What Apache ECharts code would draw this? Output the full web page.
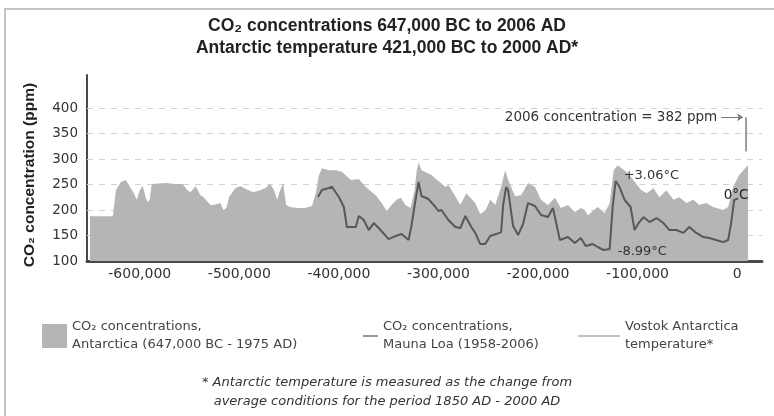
<!DOCTYPE html>
<html>
<head>
<meta charset="utf-8">
<script src="https://cdn.jsdelivr.net/npm/echarts@6/dist/echarts.min.js"></script>
<style>
  html, body { margin: 0; padding: 0; background: #fff; }
  #main { width: 774px; height: 416px; }
</style>
</head>
<body>
<div id="main"></div>
<script>
// CO2 in Antarctic ice, years (negative = BC) and ppm
const co2Years = [-650000, -627000, -624000, -619000, -614000, -609000, -606000, -603000, -600000, -597000,
  -594000, -592000, -590000, -588000, -586000, -574000, -564000, -557000, -552000, -549000,
  -544000, -542000, -539000, -536000, -529000, -526000, -519000, -516000, -513000, -510000,
  -504000, -499000, -493000, -486000, -479000, -474000, -469000, -465000, -462000, -459000,
  -456000, -453000, -449000, -442000, -434000, -427000, -423000, -420000, -417000, -410000,
  -403000, -397000, -388000, -380000, -373000, -363000, -357000, -352000, -347000, -342000,
  -338000, -333000, -328000, -324000, -322000, -320000, -317000, -307000, -300000, -293000,
  -290000, -283000, -278000, -272000, -263000, -258000, -253000, -248000, -243000, -237000,
  -233000, -230000, -223000, -217000, -210000, -203000, -197000, -190000, -183000, -177000,
  -170000, -163000, -157000, -153000, -150000, -140000, -133000, -128000, -124000, -120000,
  -110000, -102000, -96000, -91000, -84000, -78000, -71000, -64000, -58000, -51000,
  -44000, -38000, -31000, -24000, -14000, -9000, -4000, 2000, 9000, 11000];
const co2Values = [188, 188, 239, 255, 259, 243, 233, 220, 239, 247,
  224, 216, 220, 251, 253, 253, 251, 251, 239, 235,
  247, 245, 229, 225, 210, 210, 214, 200, 204, 227,
  243, 247, 241, 235, 239, 243, 251, 239, 220, 239,
  253, 210, 206, 204, 204, 208, 235, 269, 282, 278,
  278, 275, 259, 261, 245, 229, 214, 198, 210, 220,
  224, 210, 204, 239, 275, 294, 278, 269, 257, 245,
  249, 227, 210, 233, 214, 192, 198, 220, 210, 245,
  278, 259, 227, 229, 253, 245, 220, 210, 224, 204,
  210, 196, 204, 200, 190, 206, 194, 214, 278, 288,
  273, 253, 239, 233, 243, 225, 239, 220, 225, 214,
  220, 210, 214, 206, 200, 206, 245, 269, 284, 288];

// Mauna Loa (1958-2006), squeezed to a vertical stroke at the right edge
const maunaYears = [9000, 9000];
const maunaValues = [315, 382];

// Vostok temperature anomaly, degrees C
const tempYears = [-421000, -417000, -410000, -407000, -400000, -395000, -392000, -383000, -380000, -375000,
  -370000, -365000, -360000, -350000, -343000, -337000, -330000, -327000, -323000, -320000,
  -317000, -310000, -303000, -300000, -297000, -290000, -283000, -278000, -273000, -267000,
  -263000, -258000, -253000, -248000, -242000, -237000, -235000, -232000, -230000, -225000,
  -220000, -215000, -210000, -203000, -197000, -190000, -185000, -178000, -170000, -163000,
  -157000, -152000, -145000, -140000, -134000, -128000, -125000, -122000, -118000, -113000,
  -107000, -103000, -99000, -94000, -88000, -81000, -74000, -68000, -61000, -54000,
  -48000, -41000, -34000, -28000, -21000, -14000, -9000, -6000, -3000, 1000];
const tempValues = [0.26, 1.48, 1.83, 2.06, 0.26, -1.48, -4.97, -4.97, -3.05, -3.75,
  -5.5, -4.28, -5.15, -7.07, -6.54, -6.2, -7.24, -4.62, -0.26, 2.9,
  0.44, -0.09, -1.48, -2.18, -2.0, -3.75, -4.97, -5.15, -3.05, -4.97,
  -6.0, -7.94, -7.94, -6.54, -6.2, -5.85, -1.13, 2.0, 1.48, -4.8,
  -6.37, -4.45, -0.79, -1.31, -2.88, -3.23, -1.66, -7.24, -6.72, -7.77,
  -6.89, -8.29, -7.94, -8.46, -8.99, -8.81, -1.48, 3.06, 2.0, -0.26,
  -1.48, -5.5, -4.28, -3.23, -4.1, -3.4, -4.28, -5.5, -5.5, -6.0,
  -4.97, -6.0, -6.72, -6.9, -7.24, -7.6, -7.24, -4.28, -0.26, 0];

const xTicks = [-600000, -500000, -400000, -300000, -200000, -100000, 0];
const yTicks = [100, 150, 200, 250, 300, 350, 400];
const gridValues = [150, 200, 250, 300, 350, 400];

const legendNames = [
  'CO₂ concentrations,\nAntarctica (647,000 BC - 1975 AD)',
  'CO₂ concentrations,\nMauna Loa (1958-2006)',
  'Vostok Antarctica\ntemperature*'
];

const zip = (xs, ys) => xs.map((x, i) => [x, ys[i]]);
const font = "'DejaVu Sans', sans-serif";
const titleFont = "'Liberation Sans', Arial, sans-serif";

const chart = echarts.init(document.getElementById('main'), null, { renderer: 'canvas' });

const legendText = { fontFamily: font, fontSize: 13, color: '#444', lineHeight: 18 };

const option = {
  backgroundColor: '#fff',
  animation: false,
  textStyle: { fontFamily: font },
  title: [{
    text: 'CO₂ concentrations 647,000 BC to 2006 AD\nAntarctic temperature 421,000 BC to 2000 AD*',
    left: 'center',
    top: 10,
    textStyle: { fontFamily: titleFont, fontSize: 17.5, fontWeight: 'bold', color: '#222', lineHeight: 22 }
  }, {
    text: '* Antarctic temperature is measured as the change from\naverage conditions for the period 1850 AD - 2000 AD',
    left: 'center',
    top: 368,
    textStyle: { fontFamily: font, fontSize: 13, fontStyle: 'italic', fontWeight: 'normal', color: '#333', lineHeight: 19 }
  }],
  graphic: [{
    type: 'rect',
    z: -1,
    shape: { x: 5, y: 9, width: 820, height: 460 },
    style: { fill: null, stroke: '#c4c4c4', lineWidth: 2 }
  }],
  legend: [{
    left: 37, top: 313, itemWidth: 25, itemHeight: 24,
    icon: 'rect',
    data: [{ name: legendNames[0], itemStyle: { color: '#b5b5b5' } }],
    textStyle: legendText
  }, {
    left: 358, top: 313, itemWidth: 15, itemHeight: 2,
    icon: 'rect',
    data: [{ name: legendNames[1], itemStyle: { color: '#9a9a9a' } }],
    textStyle: legendText
  }, {
    left: 573, top: 313, itemWidth: 42, itemHeight: 2,
    icon: 'rect',
    data: [{ name: legendNames[2], itemStyle: { color: '#c2c2c2' } }],
    textStyle: legendText
  }],
  grid: { left: 87, right: 12, top: 75, bottom: 155, containLabel: false },
  xAxis: {
    type: 'value',
    min: -653000,
    max: 25000,
    axisLine: { onZero: false, lineStyle: { color: '#4a4a4a', width: 3 } },
    axisTick: { show: false },
    splitLine: { show: false },
    axisLabel: {
      customValues: xTicks,
      color: '#333', fontSize: 14, margin: 6,
      formatter: v => (v % 100000 === 0 ? v.toLocaleString('en-US') : '')
    }
  },
  yAxis: [{
    type: 'value',
    min: 100,
    max: 465,
    name: 'CO₂ concentration (ppm)',
    nameLocation: 'middle',
    nameGap: 49,
    nameTextStyle: { fontFamily: titleFont, fontSize: 15.5, fontWeight: 'bold', color: '#222', padding: [0, 14, 0, 0] },
    axisLine: { show: true, onZero: false, lineStyle: { color: '#4a4a4a', width: 2 } },
    axisTick: { show: false },
    splitLine: { show: false },
    axisLabel: {
      customValues: yTicks,
      color: '#333', fontSize: 13.5, margin: 9,
      formatter: v => (v <= 400 ? String(v) : '')
    }
  }, {
    type: 'value',
    min: -10.9,
    max: 21.55,
    show: false
  }],
  series: [{
    name: legendNames[0],
    type: 'line',
    z: 2,
    data: zip(co2Years, co2Values),
    showSymbol: false,
    lineStyle: { width: 0 },
    areaStyle: { color: '#b5b5b5', opacity: 1 },
    itemStyle: { color: '#b5b5b5' },
    markLine: {
      z: 1,
      silent: true,
      symbol: 'none',
      label: { show: false },
      lineStyle: { color: '#d2d2d2', type: [6, 6], width: 1 },
      data: gridValues.map(v => ({ yAxis: v }))
    }
  }, {
    name: legendNames[1],
    type: 'line',
    z: 3,
    data: zip(maunaYears, maunaValues),
    showSymbol: false,
    lineStyle: { color: '#9a9a9a', width: 2 },
    itemStyle: { color: '#9a9a9a' },
    markLine: {
      silent: true,
      symbol: ['none', 'arrow'],
      symbolSize: 6,
      lineStyle: { color: '#777', type: 'solid', width: 1 },
      label: {
        show: true, position: 'start', distance: 4,
        formatter: '2006 concentration = 382 ppm',
        color: '#333', fontSize: 13.5
      },
      data: [[{ coord: [-16000, 382] }, { coord: [6000, 382] }]]
    }
  }, {
    name: legendNames[2],
    type: 'line',
    z: 4,
    yAxisIndex: 1,
    data: zip(tempYears, tempValues),
    showSymbol: false,
    lineStyle: { color: '#585858', width: 2 },
    itemStyle: { color: '#585858' },
    markPoint: {
      symbol: 'circle',
      symbolSize: 0,
      label: { color: '#333', fontSize: 13 },
      data: [
        { coord: [-122000, 3.06], value: '+3.06°C', label: { position: 'right', distance: 8, offset: [0, -5] } },
        { coord: [-134000, -8.99], value: '-8.99°C', label: { position: 'right', distance: 14, offset: [0, 2] } },
        { coord: [1000, 0], value: '0°C', label: { position: 'inside', offset: [-2, -3], fontSize: 13.5, color: '#222' } }
      ]
    }
  }]
};

chart.setOption(option);
</script>
</body>
</html>
